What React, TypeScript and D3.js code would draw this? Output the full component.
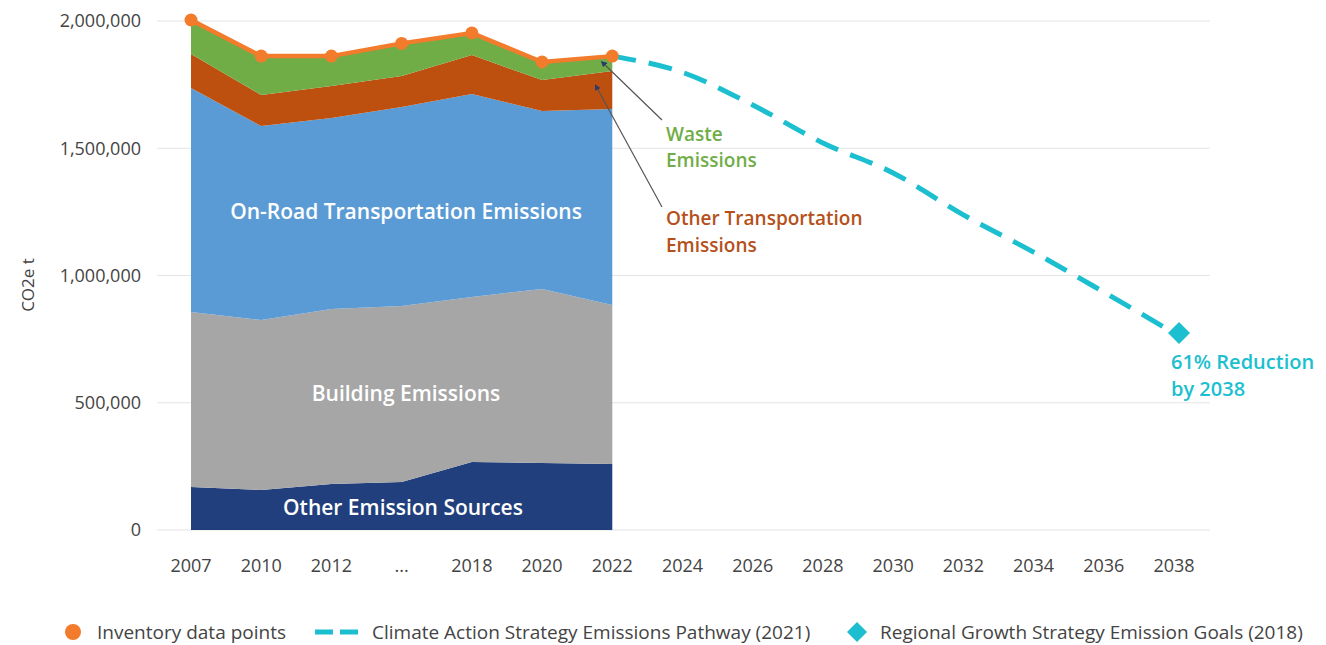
import * as d3 from "d3";

const axisLabels = ["2007", "2010", "2012", "...", "2018", "2020", "2022", "2024", "2026", "2028", "2030", "2032", "2034", "2036", "2038"];
const inventoryYears = ["2007", "2010", "2012", "...", "2018", "2020", "2022"];

const otherSources = [169000, 157000, 181000, 189000, 267000, 263000, 259000];
const building = [688000, 668000, 687000, 691000, 649000, 684000, 625000];
const onRoad = [880000, 762000, 751000, 782000, 797000, 699000, 770000];
const otherTransport = [133000, 122000, 126000, 122000, 153000, 122000, 150000];
const waste = [134000, 153000, 117000, 128000, 87000, 71000, 58000];

const pathwayYears = ["2022", "2024", "2026", "2028", "2030", "2032", "2034", "2036", "2038"];
const pathwayValues = [1862000, 1798000, 1670000, 1521000, 1403000, 1238000, 1092000, 935000, 774000];

const goalYear = "2038";
const goalValue = 774000;

const yTicks = [0, 500000, 1000000, 1500000, 2000000];

const layerKeys = ["other", "building", "onRoad", "otherTransport", "waste"];
const layerColors: Record<string, string> = {
  other: "#213f7c",
  building: "#a6a6a6",
  onRoad: "#5b9bd5",
  otherTransport: "#bd4f0f",
  waste: "#70ad47",
};

const FONT = "'Open Sans', sans-serif";
const ORANGE = "#f27b2c";
const CYAN = "#1cbfcf";

export default function App() {
  const W = 1326;
  const H = 645;

  const x = d3.scalePoint<string>().domain(axisLabels).range([191, 1174]);
  const y = d3.scaleLinear().domain([0, 2000000]).range([530, 21]);

  const rows = inventoryYears.map((yr, i) => ({
    year: yr,
    other: otherSources[i],
    building: building[i],
    onRoad: onRoad[i],
    otherTransport: otherTransport[i],
    waste: waste[i],
  }));
  const series = d3.stack<any>().keys(layerKeys)(rows);

  const area = d3
    .area<any>()
    .x((d) => x(d.data.year)!)
    .y0((d) => y(d[0]))
    .y1((d) => y(d[1]));

  const totals = rows.map((r) => ({ year: r.year, v: r.other + r.building + r.onRoad + r.otherTransport + r.waste }));
  const totalLine = d3
    .line<any>()
    .x((d) => x(d.year)!)
    .y((d) => y(d.v));

  const pathLine = d3
    .line<number>()
    .x((_, i) => x(pathwayYears[i])!)
    .y((d) => y(d))
    .curve(d3.curveMonotoneX);

  const gx = x(goalYear)! + 5;
  const gy = y(goalValue);
  const diamond = (cx: number, cy: number, r: number) => `M${cx},${cy - r}L${cx + r},${cy}L${cx},${cy + r}L${cx - r},${cy}Z`;

  const x22 = x("2022")!;

  return (
    <svg width={W} height={H} style={{ position: "absolute", left: 0, top: 0, background: "#fff" }} fontFamily={FONT}>
      <defs>
        <marker id="arr" viewBox="0 0 10 10" refX="2" refY="5" markerWidth="5" markerHeight="5" orient="auto-start-reverse">
          <path d="M0,0L10,5L0,10Z" fill="#2a3a6a" />
        </marker>
      </defs>

      {/* gridlines */}
      {yTicks.map((t) => (
        <line key={t} x1={157} x2={1210} y1={y(t)} y2={y(t)} stroke="#e4e4e4" strokeWidth={1.2} />
      ))}
      {yTicks.map((t) => (
        <text key={"l" + t} x={141} y={y(t)} dy="0.35em" textAnchor="end" fontSize={18} fill="#444">
          {d3.format(",")(t)}
        </text>
      ))}
      <text transform="translate(34,285) rotate(-90)" textAnchor="middle" fontSize={17} fill="#444">
        CO2e t
      </text>

      {/* x axis labels */}
      {axisLabels.map((l) => (
        <text key={l} x={x(l)} y={572} textAnchor="middle" fontSize={18} fill="#444">
          {l}
        </text>
      ))}

      {/* stacked areas */}
      {series.map((s) => (
        <path key={s.key} d={area(s)!} fill={layerColors[s.key]} />
      ))}

      {/* layer labels */}
      <g fill="#fff" fontSize={21} fontWeight={600} textAnchor="middle">
        <text x={406} y={219}>On-Road Transportation Emissions</text>
        <text x={406} y={401}>Building Emissions</text>
        <text x={403} y={515}>Other Emission Sources</text>
      </g>

      {/* pathway */}
      <path d={pathLine(pathwayValues)!} fill="none" stroke={CYAN} strokeWidth={5} strokeDasharray="24 13" />
      <path d={diamond(gx, gy, 11)} fill={CYAN} />

      {/* inventory total */}
      <path d={totalLine(totals)!} fill="none" stroke={ORANGE} strokeWidth={4.5} />
      {totals.map((d) => (
        <circle key={d.year} cx={x(d.year)} cy={y(d.v)} r={6.5} fill={ORANGE} />
      ))}

      {/* callouts */}
      <line x1={662} y1={120} x2={x22 - 8} y2={y(1830000)} stroke="#555" strokeWidth={1.2} markerEnd="url(#arr)" />
      <line x1={662} y1={207} x2={x22 - 15} y2={y(1735000)} stroke="#555" strokeWidth={1.2} markerEnd="url(#arr)" />
      <g fontSize={19} fontWeight={600}>
        <text x={666} y={141} fill="#70ad47">Waste</text>
        <text x={666} y={167} fill="#70ad47">Emissions</text>
        <text x={666} y={225} fill="#b5501a">Other Transportation</text>
        <text x={666} y={252} fill="#b5501a">Emissions</text>
      </g>
      <g fontSize={20} fontWeight={600} fill={CYAN}>
        <text x={1171} y={369}>61% Reduction</text>
        <text x={1171} y={396}>by 2038</text>
      </g>

      {/* legend */}
      <g fontSize={19} fill="#444">
        <circle cx={73} cy={632} r={8} fill={ORANGE} />
        <text x={97} y={632} dy="0.35em">Inventory data points</text>
        <line x1={315} x2={358} y1={632} y2={632} stroke={CYAN} strokeWidth={5} strokeDasharray="18 7" />
        <text x={372} y={632} dy="0.35em">Climate Action Strategy Emissions Pathway (2021)</text>
        <path d={diamond(857, 632, 10)} fill={CYAN} />
        <text x={880} y={632} dy="0.35em">Regional Growth Strategy Emission Goals (2018)</text>
      </g>
    </svg>
  );
}
